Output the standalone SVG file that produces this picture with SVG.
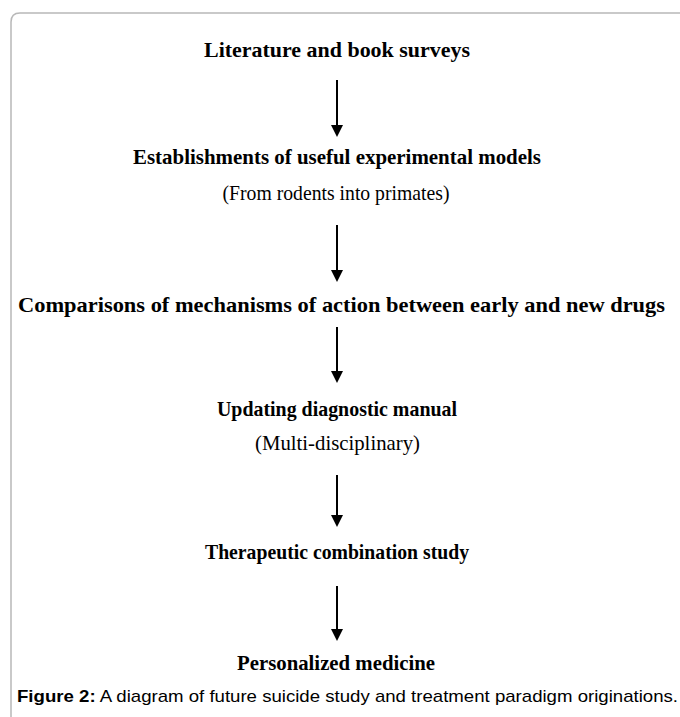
<svg xmlns="http://www.w3.org/2000/svg" width="680" height="717" viewBox="0 0 680 717">
<style>
.t{font-family:"Liberation Serif","Times New Roman",serif;font-size:21px;fill:#000;text-anchor:middle}
.b{font-weight:bold}
.cap{font-family:"Liberation Sans",Arial,sans-serif;font-size:17px;fill:#000}
.ln{stroke:#000;stroke-width:2;fill:none}
</style>
<defs>
<marker id="ah" markerWidth="12" markerHeight="12" refX="1" refY="6" orient="auto" markerUnits="userSpaceOnUse" viewBox="0 0 12 12">
<path d="M0,0 L12,6 L0,12 Z" fill="#000"/>
</marker>
</defs>
<rect width="680" height="717" fill="#fff"/>
<path d="M680,13 L20,13 Q11,13 11,22 L11,717" fill="none" stroke="#b8b8b8" stroke-width="1.5"/>
<g id="n1"><text class="t b" x="337" y="57" textLength="266" lengthAdjust="spacingAndGlyphs">Literature and book surveys</text></g>
<g id="n2"><text class="t b" x="337" y="164" textLength="408" lengthAdjust="spacingAndGlyphs">Establishments of useful experimental models</text>
<text class="t" x="336" y="200" textLength="227" lengthAdjust="spacingAndGlyphs">(From rodents into primates)</text></g>
<g id="n3"><text class="t b" x="341.5" y="312" textLength="647" lengthAdjust="spacingAndGlyphs">Comparisons of mechanisms of action between early and new drugs</text></g>
<g id="n4"><text class="t b" x="337" y="416" textLength="240" lengthAdjust="spacingAndGlyphs">Updating diagnostic manual</text>
<text class="t" x="337.5" y="450" textLength="165" lengthAdjust="spacingAndGlyphs">(Multi-disciplinary)</text></g>
<g id="n5"><text class="t b" x="337" y="559" textLength="264" lengthAdjust="spacingAndGlyphs">Therapeutic combination study</text></g>
<g id="n6"><text class="t b" x="336" y="670" textLength="198" lengthAdjust="spacingAndGlyphs">Personalized medicine</text></g>
<g id="connectors">
<line class="ln" x1="337" y1="80" x2="337" y2="126" marker-end="url(#ah)"/>
<line class="ln" x1="337" y1="225" x2="337" y2="271" marker-end="url(#ah)"/>
<line class="ln" x1="337" y1="327" x2="337" y2="372" marker-end="url(#ah)"/>
<line class="ln" x1="337" y1="475" x2="337" y2="516" marker-end="url(#ah)"/>
<line class="ln" x1="337" y1="586" x2="337" y2="630" marker-end="url(#ah)"/>
</g>
<text class="cap" x="17" y="702" textLength="661" lengthAdjust="spacingAndGlyphs"><tspan font-weight="bold">Figure 2:</tspan> A diagram of future suicide study and treatment paradigm originations.</text>
</svg>
